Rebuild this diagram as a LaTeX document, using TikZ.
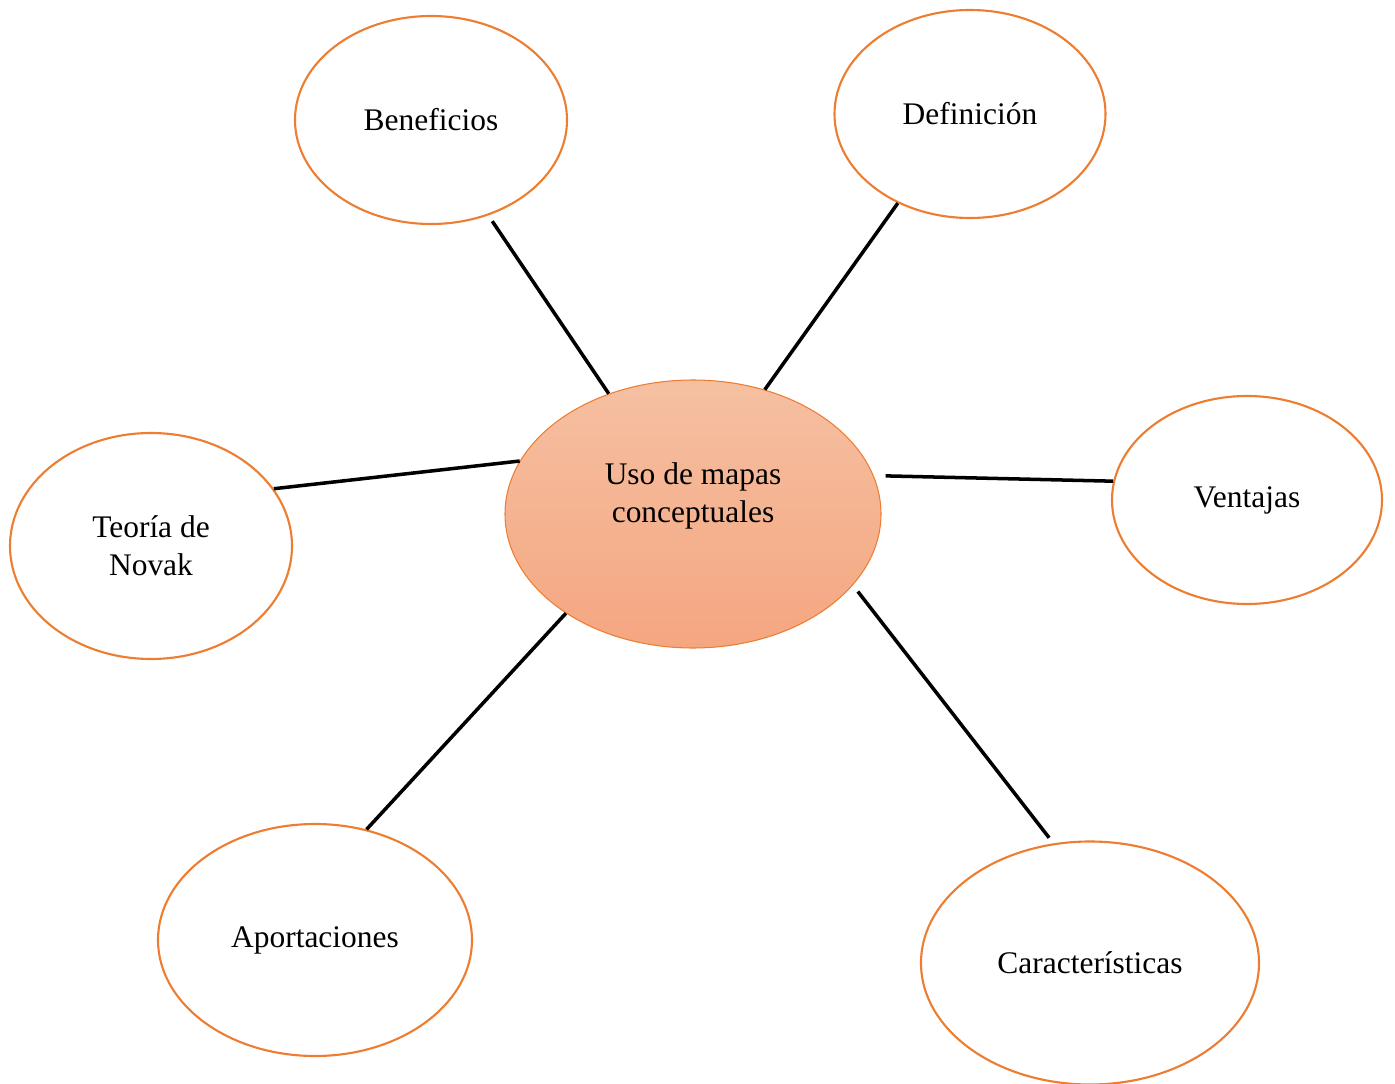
\documentclass[tikz,border=0pt]{standalone}
\usepackage{fontspec}
\setmainfont{Liberation Serif}
\usepackage{tikz}
\usetikzlibrary{shapes, positioning, calc}
\definecolor{mapedge}{RGB}{237,125,49}
\definecolor{hubtop}{RGB}{245,192,162}
\definecolor{hubbottom}{RGB}{245,166,128}
\tikzstyle{concept} = [draw=mapedge, ellipse, line width=1.2pt, fill=white, inner sep=0pt, text centered, align=center]
\tikzstyle{hub} = [draw=mapedge, ellipse, line width=0.6pt, top color=hubtop, bottom color=hubbottom, inner sep=0pt, minimum width=7.52cm, minimum height=5.36cm]
\tikzstyle{link} = [draw, line width=2pt]

\begin{document}
\begin{tikzpicture}[font=\fontsize{17.9}{21.5}\selectfont]
    \useasboundingbox (0,0) rectangle (27.9,-21.68);

    \node (hub) [hub, label={[yshift=0.36cm, align=center]center:Uso de mapas\\conceptuales}] at (13.86,-10.28) {};

    \node (beneficios) [concept, minimum width=5.44cm, minimum height=4.16cm] at (8.62,-2.40) {Beneficios};
    \node (definicion) [concept, minimum width=5.42cm, minimum height=4.16cm] at (19.40,-2.28) {Definición};
    \node (ventajas) [concept, minimum width=5.40cm, minimum height=4.16cm] at (24.94,-10.00) {Ventajas};
    \node (novak) [concept, minimum width=5.64cm, minimum height=4.52cm] at (3.02,-10.92) {Teoría de\\Novak};
    \node (aportaciones) [concept, minimum width=6.28cm, minimum height=4.64cm] at (6.30,-18.80) {Aportaciones};
    \node (caracteristicas) [concept, minimum width=6.76cm, minimum height=4.86cm] at (21.80,-19.26) {Características};

    % Spokes
    \draw [link, shorten >=0.14cm] (hub.125.5) -- (beneficios.-59.7);
    \draw [link] (hub.60) -- (definicion.231);
    \draw [link, shorten <=0.24cm] (hub.12) -- (ventajas.172.4);
    \draw [link] (hub.163) -- (novak.25.6);
    \draw [link] (hub.218.2) -- (aportaciones.65.7);
    \draw [link, shorten <=0.16cm, shorten >=0.14cm] (hub.-24.6) -- (caracteristicas.107.6);
\end{tikzpicture}
\end{document}
